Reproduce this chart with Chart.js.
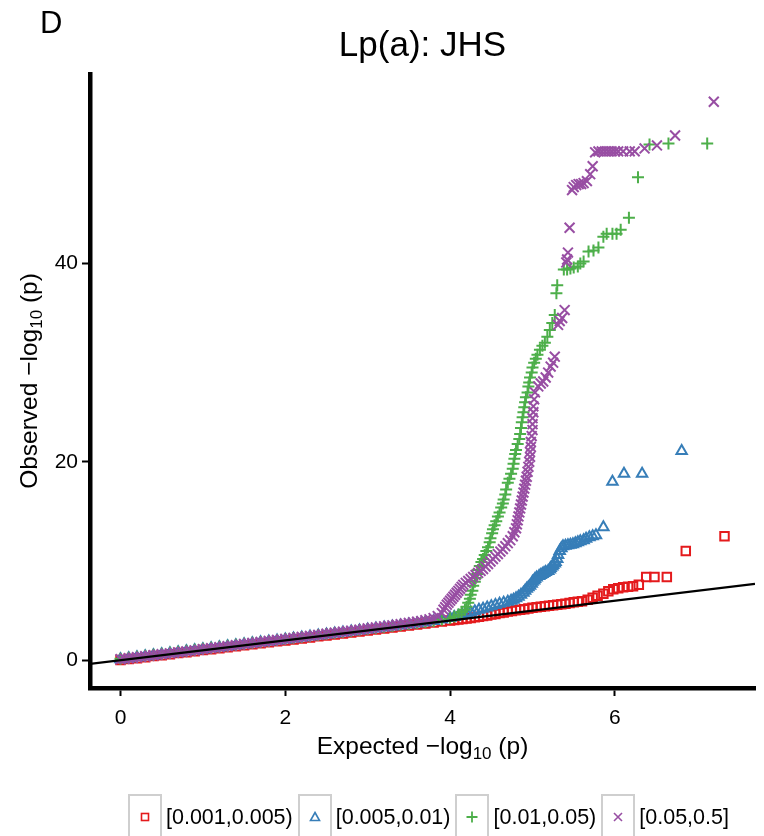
<!DOCTYPE html>
<html>
<head>
<meta charset="utf-8">
<script src="https://cdn.jsdelivr.net/npm/chart.js@4/dist/chart.umd.min.js"></script>
<style>
  body { margin: 0; background: #fff; font-family: 'Liberation Sans', Arial, sans-serif; }
  #wrap { position: relative; width: 764px; height: 836px; overflow: hidden; }
  #qq_legend { position: absolute; left: 128px; top: 794px; display: flex; align-items: center; }
  #qq_legend .key { width: 34px; height: 46px; border: 2px solid #cfcfcf; box-sizing: border-box; display: flex; align-items: center; justify-content: center; }
  #qq_legend .lbl { font-size: 21.5px; color: #000; margin: 0 5px 0 4px; }
</style>
</head>
<body>
<div id="wrap">
  <canvas id="qq_plot" width="764" height="836"></canvas>
  <div id="qq_legend"></div>
</div>
<script>
const binLabels = ['[0.001,0.005)', '[0.005,0.01)', '[0.01,0.05)', '[0.05,0.5]'];
const binColors = ['#E41A1C', '#377EB8', '#4DAF4A', '#984EA3'];
const xTicks = [0, 2, 4, 6];
const yTicks = [0, 20, 40];
const xRange = [-0.37, 7.7];
const yRange = [-2.8, 59.1];

// [expected, observed] pairs
const bin1 = [
  [0,0.02],[0.1,0.12],[0.2,0.2],[0.3,0.31],[0.4,0.42],[0.5,0.5],[0.6,0.6],[0.7,0.72],[0.8,0.8],[0.9,0.9],
  [1.0,1.02],[1.1,1.1],[1.2,1.2],[1.3,1.32],[1.4,1.4],[1.5,1.5],[1.6,1.62],[1.7,1.7],[1.8,1.8],[1.9,1.92],
  [2.0,2.0],[2.1,2.1],[2.2,2.2],[2.3,2.3],[2.4,2.42],[2.5,2.5],[2.6,2.6],[2.7,2.7],[2.8,2.8],[2.9,2.9],
  [3.0,3.0],[3.1,3.1],[3.2,3.2],[3.3,3.3],[3.4,3.4],[3.5,3.5],[3.6,3.6],[3.7,3.7],[3.8,3.8],[3.9,3.9],
  [4.0,4.0],[4.05,4.05],[4.1,4.1],[4.15,4.15],[4.2,4.2],[4.25,4.26],[4.3,4.32],[4.35,4.38],[4.4,4.45],[4.45,4.52],
  [4.5,4.6],[4.55,4.67],[4.6,4.75],[4.65,4.82],[4.7,4.9],[4.75,4.97],[4.8,5.05],[4.85,5.1],[4.9,5.15],[4.95,5.22],
  [5.0,5.3],[5.05,5.35],[5.1,5.4],[5.15,5.45],[5.2,5.5],[5.25,5.55],[5.3,5.6],[5.35,5.65],[5.4,5.7],[5.45,5.78],
  [5.5,5.85],[5.55,5.9],[5.6,5.95],[5.67,6.1],[5.73,6.3],[5.79,6.5],[5.86,6.7],[5.92,6.95],[5.98,7.15],[6.04,7.25],
  [6.10,7.35],[6.16,7.4],[6.22,7.45],[6.29,7.6],[6.38,8.4],[6.48,8.4],[6.63,8.4],[6.86,11.0],[7.33,12.5]
];
const bin2 = [
  [0,0.1],[0.1,0.2],[0.2,0.3],[0.3,0.4],[0.4,0.5],[0.5,0.6],[0.6,0.7],[0.7,0.8],[0.8,0.9],[0.9,1.0],
  [1.0,1.1],[1.1,1.2],[1.2,1.3],[1.3,1.4],[1.4,1.5],[1.5,1.6],[1.6,1.7],[1.7,1.8],[1.8,1.9],[1.9,2.0],
  [2.0,2.1],[2.1,2.2],[2.2,2.3],[2.3,2.4],[2.4,2.5],[2.5,2.6],[2.6,2.7],[2.7,2.8],[2.8,2.9],[2.9,3.0],
  [3.0,3.1],[3.1,3.2],[3.2,3.3],[3.3,3.4],[3.4,3.5],[3.5,3.6],[3.6,3.7],[3.7,3.8],[3.8,3.95],[3.9,4.1],
  [4.0,4.25],[4.05,4.35],[4.1,4.45],[4.15,4.58],[4.2,4.7],[4.25,4.82],[4.3,4.95],[4.35,5.08],[4.4,5.2],[4.45,5.32],
  [4.5,5.45],[4.55,5.58],[4.6,5.7],[4.65,5.8],[4.7,5.9],[4.74,6.0],[4.77,6.1],[4.8,6.25],[4.83,6.4],[4.86,6.6],
  [4.89,6.8],[4.91,7.0],[4.93,7.2],[4.95,7.35],[4.97,7.5],[4.99,7.7],[5.0,7.9],[5.02,8.05],[5.03,8.2],[5.05,8.35],
  [5.08,8.5],[5.10,8.6],[5.12,8.7],[5.14,8.8],[5.16,8.9],[5.19,9.0],[5.21,9.15],[5.22,9.3],[5.24,9.45],[5.25,9.6],
  [5.27,9.75],[5.28,9.9],[5.30,10.2],[5.31,10.6],[5.33,11.0],[5.35,11.3],[5.37,11.5],[5.40,11.55],[5.43,11.6],[5.46,11.65],
  [5.49,11.7],[5.52,11.8],[5.55,11.9],[5.58,12.0],[5.62,12.1],[5.65,12.25],[5.69,12.4],[5.73,12.5],[5.77,12.6],[5.86,13.4],
  [5.97,18.0],[6.11,18.8],[6.33,18.8],[6.81,21.1]
];
const bin3 = [
  [0,0.15],[0.1,0.25],[0.2,0.35],[0.3,0.45],[0.4,0.55],[0.5,0.65],[0.6,0.75],[0.7,0.85],[0.8,0.95],[0.9,1.05],
  [1.0,1.15],[1.1,1.25],[1.2,1.35],[1.3,1.45],[1.4,1.55],[1.5,1.65],[1.6,1.75],[1.7,1.85],[1.8,1.95],[1.9,2.05],
  [2.0,2.15],[2.1,2.25],[2.2,2.35],[2.3,2.45],[2.4,2.55],[2.5,2.65],[2.6,2.75],[2.7,2.85],[2.8,2.95],[2.9,3.05],
  [3.0,3.15],[3.1,3.25],[3.2,3.35],[3.3,3.45],[3.4,3.55],[3.5,3.65],[3.6,3.75],[3.7,3.85],[3.8,3.95],[3.9,4.1],
  [4.0,4.25],[4.05,4.4],[4.1,4.6],[4.14,4.85],[4.18,5.1],[4.20,5.4],[4.22,5.8],[4.24,6.2],[4.25,6.6],[4.27,7.0],
  [4.28,7.5],[4.30,7.9],[4.31,8.3],[4.33,8.7],[4.34,9.1],[4.36,9.5],[4.38,9.9],[4.40,10.2],[4.42,10.6],[4.44,11.0],
  [4.46,11.4],[4.48,11.9],[4.49,12.3],[4.51,12.8],[4.52,13.2],[4.54,13.6],[4.56,14.0],[4.58,14.5],[4.60,14.9],[4.62,15.4],
  [4.64,15.8],[4.65,16.2],[4.67,16.7],[4.68,17.2],[4.70,17.9],[4.72,18.3],[4.74,18.8],[4.76,19.3],[4.77,19.8],[4.78,20.3],
  [4.79,20.8],[4.80,21.2],[4.82,21.8],[4.84,22.3],[4.85,22.8],[4.86,23.4],[4.87,24.0],[4.88,24.5],[4.89,25.0],[4.90,25.5],
  [4.91,26.0],[4.92,26.5],[4.94,27.0],[4.95,27.6],[4.96,28.0],[4.97,28.5],[4.99,29.0],[5.00,29.5],[5.02,30.0],[5.04,30.4],
  [5.06,30.8],[5.09,31.3],[5.12,31.7],[5.15,32.0],[5.18,32.6],[5.21,33.3],[5.24,34.0],[5.27,34.8],[5.29,37.0],[5.30,37.8],
  [5.38,39.4],[5.42,39.4],[5.46,39.5],[5.50,39.6],[5.55,39.7],[5.58,40.0],[5.62,40.2],[5.68,41.2],[5.74,41.3],[5.80,41.6],
  [5.86,42.7],[5.90,43.0],[5.97,43.0],[6.02,43.0],[6.07,43.4],[6.17,44.6],[6.28,48.7],[6.42,52.0],[6.65,52.1],[7.12,52.1]
];
const bin4 = [
  [0,0.1],[0.05,0.15],[0.1,0.2],[0.15,0.25],[0.2,0.3],[0.25,0.35],[0.3,0.4],[0.35,0.45],[0.4,0.5],[0.45,0.55],
  [0.5,0.6],[0.55,0.65],[0.6,0.7],[0.65,0.75],[0.7,0.8],[0.75,0.85],[0.8,0.9],[0.85,0.95],[0.9,1.0],[0.95,1.05],
  [1.0,1.12],[1.05,1.17],[1.1,1.22],[1.15,1.27],[1.2,1.32],[1.25,1.37],[1.3,1.42],[1.35,1.47],[1.4,1.52],[1.45,1.57],
  [1.5,1.64],[1.55,1.69],[1.6,1.74],[1.65,1.79],[1.7,1.84],[1.75,1.89],[1.8,1.94],[1.85,1.99],[1.9,2.04],[1.95,2.09],
  [2.0,2.16],[2.05,2.21],[2.1,2.26],[2.15,2.31],[2.2,2.36],[2.25,2.41],[2.3,2.46],[2.35,2.51],[2.4,2.56],[2.45,2.61],
  [2.5,2.68],[2.55,2.73],[2.6,2.78],[2.65,2.83],[2.7,2.88],[2.75,2.93],[2.8,2.98],[2.85,3.03],[2.9,3.08],[2.95,3.13],
  [3.0,3.2],[3.05,3.25],[3.1,3.3],[3.15,3.36],[3.2,3.42],[3.25,3.47],[3.3,3.52],[3.35,3.58],[3.4,3.64],[3.45,3.7],
  [3.5,3.76],[3.55,3.82],[3.6,3.88],[3.65,3.95],[3.7,4.03],[3.75,4.12],[3.8,4.25],[3.85,4.45],[3.9,4.75],[3.92,5.1],
  [3.94,5.35],[3.96,5.6],[3.98,5.8],[4.0,6.0],[4.02,6.2],[4.04,6.4],[4.06,6.6],[4.08,6.8],[4.10,7.0],[4.12,7.2],
  [4.14,7.4],[4.16,7.6],[4.19,7.8],[4.22,8.0],[4.25,8.2],[4.28,8.4],[4.31,8.6],[4.34,8.8],[4.37,9.0],[4.40,9.2],
  [4.43,9.45],[4.46,9.7],[4.49,9.95],[4.52,10.2],[4.55,10.45],[4.58,10.7],[4.61,10.95],[4.64,11.2],[4.67,11.5],[4.70,11.8],
  [4.73,12.1],[4.76,12.5],[4.78,12.9],[4.80,13.3],[4.81,13.7],[4.82,14.1],[4.83,14.5],[4.84,14.9],[4.85,15.3],[4.86,15.7],
  [4.87,16.1],[4.88,16.5],[4.89,16.9],[4.90,17.3],[4.91,17.7],[4.92,18.1],[4.93,18.5],[4.94,19.0],[4.95,19.5],[4.96,20.0],
  [4.97,20.5],[4.97,21.0],[4.98,21.5],[4.98,22.0],[4.99,22.6],[5.00,23.2],[5.00,23.8],[5.00,24.4],[5.01,25.0],[5.01,25.6],
  [5.02,26.3],[5.03,27.0],[5.07,27.6],[5.10,27.9],[5.13,28.1],[5.16,28.5],[5.19,29.0],[5.22,29.6],[5.25,30.0],[5.27,30.6],
  [5.31,33.8],[5.33,34.2],[5.36,34.5],[5.39,35.3],[5.41,40.1],[5.42,40.4],[5.43,41.1],[5.45,43.6],[5.48,47.4],[5.50,47.7],
  [5.53,47.9],[5.56,48.0],[5.59,48.0],[5.62,48.1],[5.66,48.3],[5.70,49.0],[5.73,49.8],[5.76,51.2],[5.80,51.3],[5.84,51.3],
  [5.88,51.3],[5.92,51.3],[5.96,51.3],[6.00,51.3],[6.04,51.3],[6.10,51.3],[6.18,51.3],[6.24,51.3],[6.36,51.6],[6.51,51.9],
  [6.73,52.9],[7.20,56.3]
];
const bins = [bin1, bin2, bin3, bin4];
const binShapes = ['rect', 'triangle', 'cross', 'crossRot'];
const binRadius = [6, 6, 6, 7];

const FONT = "'Liberation Sans', Arial, sans-serif";
Chart.defaults.font.family = FONT;
Chart.defaults.color = '#000';

// text pieces: [text, size, baseline shift]
function drawPieces(c, pieces, cx, baseY) {
  let total = 0;
  pieces.forEach(p => { c.font = p[1] + 'px ' + FONT; total += c.measureText(p[0]).width; });
  let x = cx - total / 2;
  c.textAlign = 'left';
  c.textBaseline = 'alphabetic';
  pieces.forEach(p => {
    c.font = p[1] + 'px ' + FONT;
    c.fillText(p[0], x, baseY + p[2]);
    x += c.measureText(p[0]).width;
  });
}

const titlePlugin = {
  id: 'panelTitle',
  afterDraw(chart) {
    const c = chart.ctx, a = chart.chartArea;
    const cx = (a.left + a.right) / 2, cy = (a.top + a.bottom) / 2;
    c.save();
    c.fillStyle = '#000';
    c.textBaseline = 'middle';
    c.font = '31px ' + FONT;
    c.textAlign = 'left';
    c.fillText('D', 40, 24);
    c.font = '35px ' + FONT;
    c.textAlign = 'center';
    c.fillText('Lp(a): JHS', cx, 46);
    drawPieces(c, [['Expected \u2212log', 24.5, 0], ['10', 17, 5], [' (p)', 24.5, 0]], cx, 754);
    c.translate(37, cy);
    c.rotate(-Math.PI / 2);
    drawPieces(c, [['Observed \u2212log', 24.5, 0], ['10', 17, 5], [' (p)', 24.5, 0]], 0, 0);
    c.restore();
  }
};

const datasets = bins.map((pts, i) => ({
  type: 'scatter',
  label: binLabels[i],
  data: pts.map(p => ({ x: p[0], y: p[1] })),
  pointStyle: binShapes[i],
  pointRadius: binRadius[i],
  pointBorderColor: binColors[i],
  pointBackgroundColor: 'rgba(0,0,0,0)',
  pointBorderWidth: 2,
  order: 4 - i
}));
datasets.push({
  type: 'line',
  label: 'y = x',
  data: [{ x: xRange[0], y: xRange[0] }, { x: xRange[1], y: xRange[1] }],
  borderColor: '#000',
  borderWidth: 2.4,
  pointRadius: 0,
  order: 0
});

const ctx = document.getElementById('qq_plot').getContext('2d');
const qqChart = new Chart(ctx, {
  type: 'scatter',
  data: { datasets: datasets },
  options: {
    responsive: false,
    animation: false,
    devicePixelRatio: 1,
    layout: { padding: { top: 74, left: 10, right: 9, bottom: 71 } },
    plugins: { legend: { display: false }, tooltip: { enabled: false } },
    scales: {
      x: {
        type: 'linear',
        min: xRange[0], max: xRange[1],
        afterBuildTicks: s => { s.ticks = xTicks.map(v => ({ value: v })); },
        afterFit: s => { s.height = 77; },
        grid: { drawOnChartArea: false, drawTicks: true, tickLength: 8, tickWidth: 2, color: '#000' },
        border: { display: true, width: 4.5, color: '#000' },
        ticks: { font: { size: 21 }, padding: 10, color: '#000' }
      },
      y: {
        type: 'linear',
        min: yRange[0], max: yRange[1],
        afterBuildTicks: s => { s.ticks = yTicks.map(v => ({ value: v })); },
        afterFit: s => { s.width = 80; },
        grid: { drawOnChartArea: false, drawTicks: true, tickLength: 8, tickWidth: 2, color: '#000' },
        border: { display: true, width: 4.5, color: '#000' },
        ticks: { font: { size: 21 }, padding: 4, color: '#000' }
      }
    }
  },
  plugins: [titlePlugin]
});

// legend with boxed keys
function keySvg(i) {
  const col = binColors[i];
  const shapes = [
    '<rect x="2.5" y="2.5" width="7" height="7" fill="none" stroke="' + col + '" stroke-width="1.6"/>',
    '<polygon points="6,1.5 10.5,9.5 1.5,9.5" fill="none" stroke="' + col + '" stroke-width="1.6"/>',
    '<path d="M6 0.5V11.5M0.5 6H11.5" stroke="' + col + '" stroke-width="1.8"/>',
    '<path d="M2 2L10 10M10 2L2 10" stroke="' + col + '" stroke-width="1.6"/>'
  ];
  return '<svg width="12" height="12" viewBox="0 0 12 12">' + shapes[i] + '</svg>';
}
document.getElementById('qq_legend').innerHTML = binLabels.map((label, i) =>
  '<span class="key">' + keySvg(i) + '</span><span class="lbl">' + label + '</span>'
).join('');
</script>
</body>
</html>
